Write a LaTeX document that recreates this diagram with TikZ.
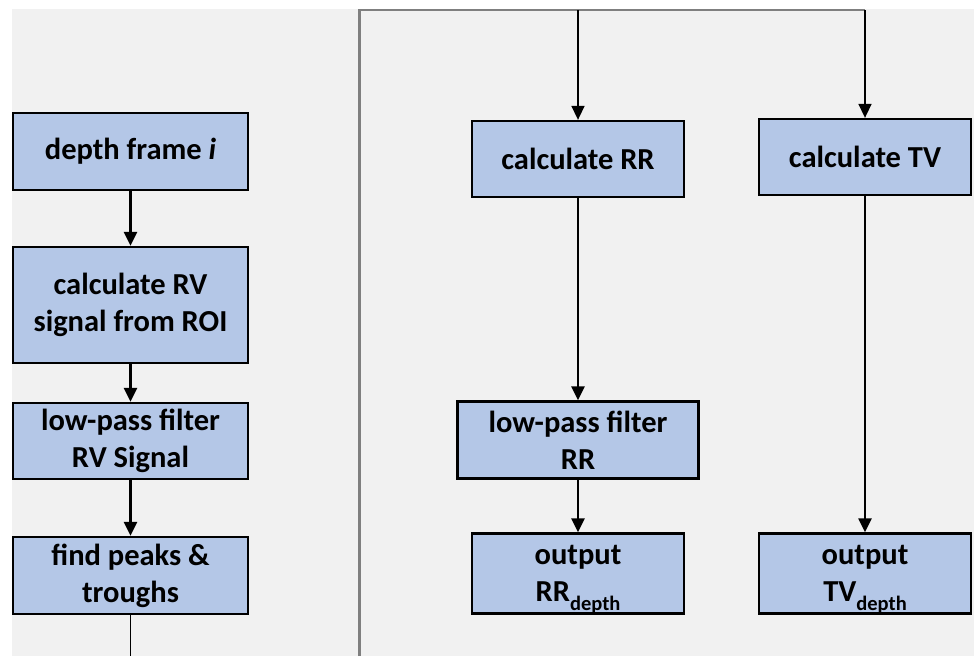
\documentclass[tikz,border=0pt]{standalone}
\usepackage{fontspec}
\setmainfont{Carlito}
\usetikzlibrary{arrows.meta}
\definecolor{boxblue}{HTML}{B4C7E7}
\definecolor{panel}{HTML}{F1F1F1}
\definecolor{rail}{HTML}{7F7F7F}
\newcommand{\depthsub}{\smash{\raisebox{-0.3em}{\fontsize{20.5}{20.5}\selectfont depth}}}
\begin{document}
\begin{tikzpicture}[x=1pt,y=-1pt,
  stepbox/.style={draw=black,line width=2.3pt,fill=boxblue,align=center,
    inner sep=0pt,font=\fontsize{30.5}{37}\selectfont\bfseries},
  flow/.style={draw=black,line width=2.3pt,-{Triangle[width=13pt,length=14pt]}},
  drop/.style={draw=black,line width=1.6pt,-{Triangle[width=13pt,length=14pt]}},
  railline/.style={draw=rail,line width=2.6pt}]
  \useasboundingbox (0,0) rectangle (974,656);
  % light panel behind the flow
  \fill[panel] (12,9) rectangle (974,656);

  % left column
  \node[stepbox,minimum width=235pt,minimum height=77pt] (df) at (130.5,151.5) {depth frame \textit{i}};
  \node[stepbox,minimum width=235pt,minimum height=116pt] (rv) at (130.5,305) {calculate RV\\signal from ROI};
  \node[stepbox,minimum width=235pt,minimum height=76pt] (lp) at (130.5,441) {low-pass filter\\RV Signal};
  \node[stepbox,minimum width=235pt,minimum height=77pt] (pk) at (130.5,575.5) {find peaks \&\\troughs};
  \coordinate (pkout) at (130.5,656);

  % right columns
  \node[stepbox,minimum width=212pt,minimum height=76pt] (rr) at (578,159) {calculate RR};
  \node[stepbox,minimum width=212pt,minimum height=76pt] (tv) at (865,157) {calculate TV};
  \node[stepbox,minimum width=241pt,minimum height=77pt] (lprr) at (578,440) {low-pass filter\\RR};
  \node[stepbox,minimum width=212pt,minimum height=80pt] (orr) at (578,573.5) {output\\RR\depthsub};
  \node[stepbox,minimum width=212pt,minimum height=80pt] (otv) at (865,573.5) {output\\TV\depthsub};

  % feed rail
  \coordinate (railbot) at (359.5,656);
  \coordinate (railtop) at (359.5,10);
  \coordinate (railrr) at (578,10);
  \coordinate (railtv) at (865,10);
  \draw[railline] (railbot) -- (railtop) -- (railtv);
  \draw[drop] (railrr) -- (rr.north);
  \draw[drop] (railtv) -- (tv.north);

  % arrows
  \draw[flow] (df) -- (rv);
  \draw[flow] (rv) -- (lp);
  \draw[flow] (lp) -- (pk);
  \draw[line width=1.6pt] (pk.south) -- (pkout);
  \draw[flow] (rr) -- (lprr);
  \draw[flow] (lprr) -- (orr);
  \draw[flow] (tv) -- (otv);
\end{tikzpicture}
\end{document}
